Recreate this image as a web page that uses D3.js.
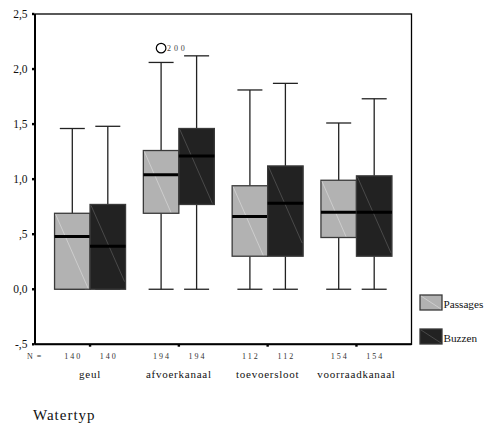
<!DOCTYPE html>
<html>
<head>
<meta charset="utf-8">
<script src="https://cdn.jsdelivr.net/npm/d3@7"></script>
<style>
  body { margin: 0; background: #fff; }
  svg { font-family: "Liberation Serif", "DejaVu Serif", serif; }
</style>
</head>
<body>
<svg id="chart" width="487" height="425"></svg>
<script>
// ---- data ----
const categories = ["geul", "afvoerkanaal", "toevoersloot", "voorraadkanaal"];
const seriesNames = ["Passages", "Buzzen"];
const counts = [140, 194, 112, 154];
// [min, q1, median, q3, max] per category
const passages = [
  [0, 0, 0.48, 0.69, 1.46],
  [0, 0.69, 1.04, 1.26, 2.06],
  [0, 0.30, 0.66, 0.94, 1.81],
  [0, 0.47, 0.70, 0.99, 1.51]
];
const buzzen = [
  [0, 0, 0.39, 0.77, 1.48],
  [0, 0.77, 1.21, 1.46, 2.12],
  [0, 0.30, 0.78, 1.12, 1.87],
  [0, 0.30, 0.70, 1.03, 1.73]
];
// outliers: category, series, value, case label
const outliers = [
  { cat: "afvoerkanaal", series: 0, value: 2.19, label: "200" }
];
const yTicks = [-0.5, 0, 0.5, 1, 1.5, 2, 2.5];
const yTickLabels = ["-,5", "0,0", ",5", "1,0", "1,5", "2,0", "2,5"];

// ---- layout ----
const svg = d3.select("#chart");
const plotLeft = 35, plotRight = 411.5, plotTop = 14, plotBottom = 344.3;
const fills = ["#b2b2b2", "#222222"];
const hatch = ["#d8d8d8", "#5a5a5a"];
const boxW = 35.5, capW = 25;

const x = d3.scalePoint()
  .domain(categories)
  .range([plotLeft, plotRight])
  .padding(0.62);

const y = d3.scaleLinear()
  .domain([-0.5, 2.5])
  .range([plotBottom, plotTop]);

const data = [passages, buzzen];

// boxes
categories.forEach((cat, ci) => {
  data.forEach((series, si) => {
    const [mn, q1, md, q3, mx] = series[ci];
    const x0 = x(cat) + (si === 0 ? -boxW : 0);
    const cx = x0 + boxW / 2;
    const g = svg.append("g");

    // whiskers
    g.append("line")
      .attr("x1", cx).attr("x2", cx)
      .attr("y1", y(mx)).attr("y2", y(q3))
      .attr("stroke", "#222").attr("stroke-width", 1.3);
    g.append("line")
      .attr("x1", cx).attr("x2", cx)
      .attr("y1", y(q1)).attr("y2", y(mn))
      .attr("stroke", "#222").attr("stroke-width", 1.3);
    g.append("line")
      .attr("x1", cx - capW / 2).attr("x2", cx + capW / 2)
      .attr("y1", y(mx)).attr("y2", y(mx))
      .attr("stroke", "#222").attr("stroke-width", 1.3);
    g.append("line")
      .attr("x1", cx - capW / 2).attr("x2", cx + capW / 2)
      .attr("y1", y(mn)).attr("y2", y(mn))
      .attr("stroke", "#222").attr("stroke-width", 1.3);

    // box
    const by = y(q3), bh = y(q1) - y(q3);
    g.append("rect")
      .attr("x", x0).attr("y", by)
      .attr("width", boxW).attr("height", bh)
      .attr("fill", fills[si])
      .attr("stroke", "#3a3a3a").attr("stroke-width", 1.3);

    // faint diagonal shading line
    const slope = 2.2;
    const dx = Math.min(boxW, bh / slope);
    g.append("line")
      .attr("x1", x0 + 1).attr("y1", by + 1)
      .attr("x2", x0 + dx - 1).attr("y2", by + dx * slope - 1)
      .attr("stroke", hatch[si]).attr("stroke-width", 0.7);

    // median
    g.append("line")
      .attr("x1", x0).attr("x2", x0 + boxW)
      .attr("y1", y(md)).attr("y2", y(md))
      .attr("stroke", "#000").attr("stroke-width", 3);

    // N label
    svg.append("text")
      .attr("x", cx + 1).attr("y", 359)
      .attr("text-anchor", "middle")
      .attr("font-size", 8)
      .attr("letter-spacing", 2)
      .attr("fill", "#333")
      .text(counts[ci]);
  });
});

// outliers
outliers.forEach(o => {
  const cx = x(o.cat) + (o.series === 0 ? -boxW / 2 : boxW / 2);
  svg.append("circle")
    .attr("cx", cx).attr("cy", y(o.value)).attr("r", 4.8)
    .attr("fill", "none").attr("stroke", "#000").attr("stroke-width", 1.2);
  svg.append("text")
    .attr("x", cx + 6).attr("y", y(o.value) + 2.5)
    .attr("font-size", 8)
    .attr("letter-spacing", 2.8)
    .attr("fill", "#444")
    .text(o.label);
});

// frame
svg.append("rect")
  .attr("x", plotLeft).attr("y", plotTop)
  .attr("width", plotRight - plotLeft).attr("height", plotBottom - plotTop)
  .attr("fill", "none").attr("stroke", "#000").attr("stroke-width", 1.3);
svg.append("line")
  .attr("x1", plotLeft).attr("x2", plotLeft).attr("y1", plotTop).attr("y2", plotBottom)
  .attr("stroke", "#000").attr("stroke-width", 2);
svg.append("line")
  .attr("x1", plotLeft).attr("x2", plotRight).attr("y1", plotBottom).attr("y2", plotBottom)
  .attr("stroke", "#000").attr("stroke-width", 2);

// y ticks (small squares) and labels
yTicks.forEach((t, i) => {
  svg.append("rect")
    .attr("x", plotLeft - 3).attr("y", y(t) - 1.2)
    .attr("width", 2.4).attr("height", 2.4).attr("fill", "#000");
  svg.append("text")
    .attr("x", 27.5).attr("y", y(t) + 4)
    .attr("text-anchor", "end")
    .attr("font-size", 11.5)
    .attr("fill", "#111")
    .text(yTickLabels[i]);
});

// x ticks and category labels
categories.forEach(cat => {
  svg.append("rect")
    .attr("x", x(cat) - 1.2).attr("y", plotBottom)
    .attr("width", 2.4).attr("height", 2.4).attr("fill", "#000");
  svg.append("text")
    .attr("x", x(cat)).attr("y", 378)
    .attr("text-anchor", "middle")
    .attr("font-size", 11)
    .attr("letter-spacing", 0.75)
    .attr("fill", "#111")
    .text(cat);
});

svg.append("text")
  .attr("x", 27).attr("y", 359)
  .attr("font-size", 8)
  .attr("letter-spacing", 1)
  .attr("fill", "#333")
  .text("N =");

// axis title
svg.append("text")
  .attr("x", 33).attr("y", 420)
  .attr("font-size", 15)
  .attr("letter-spacing", 1)
  .attr("fill", "#111")
  .text("Watertyp");

// legend
const legendY = [295, 329];
seriesNames.forEach((name, i) => {
  const g = svg.append("g").attr("transform", `translate(420,${legendY[i]})`);
  g.append("rect")
    .attr("width", 22).attr("height", 15)
    .attr("fill", fills[i])
    .attr("stroke", "#3a3a3a").attr("stroke-width", 1.3);
  g.append("line")
    .attr("x1", 1).attr("y1", 1).attr("x2", 21).attr("y2", 14)
    .attr("stroke", hatch[i]).attr("stroke-width", 0.7);
  g.append("text")
    .attr("x", 23.5).attr("y", 12.5)
    .attr("font-size", 11.2)
    .attr("fill", "#111")
    .text(name);
});
</script>
</body>
</html>
